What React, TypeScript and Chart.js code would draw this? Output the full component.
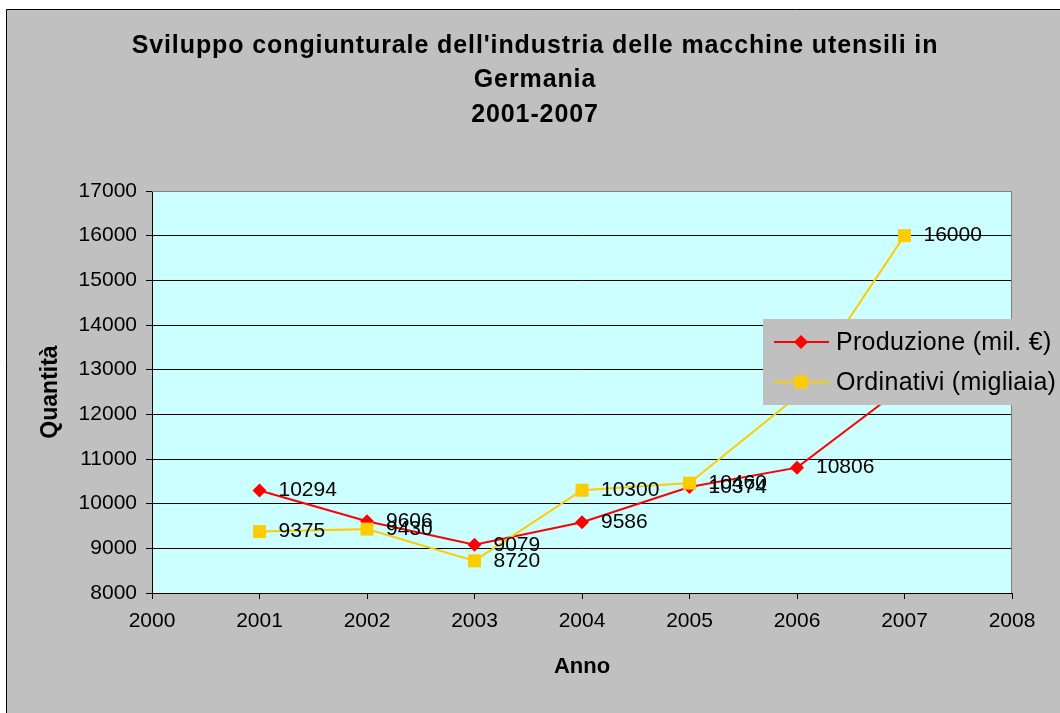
import React, { useEffect, useRef } from 'react';
import { Chart, registerables } from 'chart.js';

Chart.register(...registerables);

const titleLines = ["Sviluppo congiunturale dell'industria delle macchine utensili in", 'Germania', '2001-2007'];
const years = [2001, 2002, 2003, 2004, 2005, 2006, 2007];
const produzione = [10294, 9606, 9079, 9586, 10374, 10806, 12630];
const ordinativi = [9375, 9430, 8720, 10300, 10460, 12400, 16000];
const seriesNames = ['Produzione (mil. €)', 'Ordinativi (migliaia)'];
const xTitle = 'Anno';
const yTitle = 'Quantità';
const xRange = [2000, 2008];
const yRange = [8000, 17000];

const FONT = "'Liberation Sans', Arial, sans-serif";
const RED = '#FF0000';
const YELLOW = '#FFCC00';
const GRAY = '#C0C0C0';
const PLOT_BG = '#CCFFFF';

const W = 1060;
const H = 713;

function drawMarker(ctx: CanvasRenderingContext2D, style: string, x: number, y: number, color: string) {
  ctx.save();
  ctx.fillStyle = color;
  ctx.beginPath();
  if (style === 'rectRot') {
    const r = 7;
    ctx.moveTo(x - r, y);
    ctx.lineTo(x, y - r);
    ctx.lineTo(x + r, y);
    ctx.lineTo(x, y + r);
    ctx.closePath();
  } else {
    const s = 6.5;
    ctx.rect(x - s, y - s, 2 * s, 2 * s);
  }
  ctx.fill();
  ctx.restore();
}

const framePlugin = {
  id: 'frame',
  beforeDraw(chart: any) {
    const { ctx, chartArea } = chart;
    ctx.save();
    ctx.fillStyle = '#FFFFFF';
    ctx.fillRect(0, 0, W, H);
    ctx.fillStyle = GRAY;
    ctx.fillRect(6, 9, W - 6, H - 9);
    ctx.strokeStyle = '#000000';
    ctx.lineWidth = 1;
    ctx.beginPath();
    ctx.moveTo(6.5, H);
    ctx.lineTo(6.5, 9.5);
    ctx.lineTo(W, 9.5);
    ctx.stroke();
    ctx.fillStyle = PLOT_BG;
    ctx.fillRect(chartArea.left, chartArea.top, chartArea.right - chartArea.left, chartArea.bottom - chartArea.top);
    // title
    ctx.fillStyle = '#000000';
    ctx.font = `bold 25px ${FONT}`;
    (ctx as any).letterSpacing = '0.9px';
    ctx.textAlign = 'center';
    ctx.textBaseline = 'middle';
    const ys = [46, 80.5, 115];
    titleLines.forEach((t, i) => ctx.fillText(t, 535, ys[i]));
    (ctx as any).letterSpacing = '0px';
    ctx.restore();
  },
  afterDatasetsDraw(chart: any) {
    const { ctx } = chart;
    ctx.save();
    ctx.fillStyle = '#000000';
    ctx.font = `21px ${FONT}`;
    ctx.textAlign = 'left';
    ctx.textBaseline = 'middle';
    chart.data.datasets.forEach((ds: any, di: number) => {
      const meta = chart.getDatasetMeta(di);
      meta.data.forEach((pt: any, i: number) => {
        ctx.fillText(String(ds.data[i].y), pt.x + 19, pt.y);
      });
    });
    // plot border (top/right gray)
    const a = chart.chartArea;
    ctx.strokeStyle = '#808080';
    ctx.lineWidth = 1;
    ctx.beginPath();
    ctx.moveTo(a.left, a.top + 0.5);
    ctx.lineTo(a.right - 0.5, a.top + 0.5);
    ctx.lineTo(a.right - 0.5, a.bottom);
    ctx.stroke();
    ctx.restore();
  },
  afterDraw(chart: any) {
    const { ctx } = chart;
    ctx.save();
    ctx.fillStyle = GRAY;
    ctx.fillRect(763, 319, 249, 86);
    const rows = [342, 382];
    chart.data.datasets.forEach((ds: any, i: number) => {
      const y = rows[i];
      ctx.strokeStyle = ds.borderColor;
      ctx.lineWidth = 2;
      ctx.beginPath();
      ctx.moveTo(774, y);
      ctx.lineTo(829, y);
      ctx.stroke();
      drawMarker(ctx, ds.pointStyle, 801, y, ds.borderColor);
      ctx.fillStyle = '#000000';
      ctx.font = `25px ${FONT}`;
      (ctx as any).letterSpacing = '0.3px';
      ctx.textAlign = 'left';
      ctx.textBaseline = 'middle';
      ctx.fillText(ds.label, 836, y + 1);
      (ctx as any).letterSpacing = '0px';
    });
    ctx.restore();
  },
};

export default function App() {
  const ref = useRef<HTMLCanvasElement | null>(null);
  useEffect(() => {
    if (!ref.current) return;
    const chart = new Chart(ref.current, {
      type: 'line',
      data: {
        datasets: [
          {
            label: seriesNames[0],
            data: years.map((x, i) => ({ x, y: produzione[i] })),
            borderColor: RED,
            backgroundColor: RED,
            borderWidth: 2,
            pointStyle: 'rectRot',
            pointRadius: 7,
            pointBorderWidth: 0,
            pointBackgroundColor: RED,
            tension: 0,
            order: 1,
          },
          {
            label: seriesNames[1],
            data: years.map((x, i) => ({ x, y: ordinativi[i] })),
            borderColor: YELLOW,
            backgroundColor: YELLOW,
            borderWidth: 2,
            pointStyle: 'rect',
            pointRadius: 9.2,
            pointBorderWidth: 0,
            pointBackgroundColor: YELLOW,
            tension: 0,
            order: 0,
          },
        ],
      },
      options: {
        animation: false,
        responsive: false,
        devicePixelRatio: 1,
        layout: { padding: { top: 191, right: 48, bottom: 0, left: 0 } },
        plugins: {
          legend: { display: false },
          title: { display: false },
          tooltip: { enabled: false },
        },
        scales: {
          x: {
            type: 'linear',
            min: xRange[0],
            max: xRange[1],
            afterFit: (s: any) => { s.height = 120; },
            border: { color: '#000000', width: 1 },
            grid: { drawOnChartArea: false, drawTicks: true, tickLength: 6, tickColor: '#000000', color: '#000000' },
            ticks: {
              stepSize: 1,
              padding: 10,
              color: '#000000',
              font: { family: FONT, size: 21 },
              maxRotation: 0,
              callback: (v: any) => String(v),
            },
            title: {
              display: true,
              text: xTitle,
              color: '#000000',
              font: { family: FONT, size: 22, weight: 'bold' },
              padding: { top: 0, bottom: 33 },
            },
          },
          y: {
            type: 'linear',
            min: yRange[0],
            max: yRange[1],
            afterFit: (s: any) => { s.width = 152; },
            border: { color: '#000000', width: 1 },
            grid: {
              color: (c: any) => (c.tick && c.tick.value === yRange[1] ? '#808080' : '#000000'),
              lineWidth: 1,
              drawTicks: true,
              tickLength: 6,
              tickColor: '#000000',
            },
            ticks: {
              stepSize: 1000,
              padding: 9,
              color: '#000000',
              font: { family: FONT, size: 21 },
              callback: (v: any) => String(v),
            },
            title: {
              display: true,
              text: yTitle,
              color: '#000000',
              font: { family: FONT, size: 23, weight: 'bold' },
              padding: { top: 37, bottom: 0 },
            },
          },
        },
      },
      plugins: [framePlugin],
    } as any);
    return () => chart.destroy();
  }, []);
  return (
    <div style={{ position: 'absolute', left: 0, top: 0, width: W, height: H }}>
      <canvas ref={ref} width={W} height={H} style={{ display: 'block', width: W, height: H }} />
    </div>
  );
}
